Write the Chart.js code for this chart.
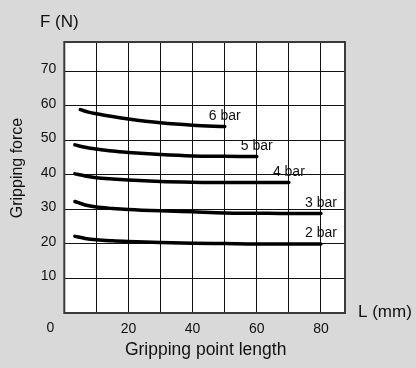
<!DOCTYPE html>
<html>
<head>
<meta charset="utf-8">
<script src="https://cdn.jsdelivr.net/npm/chart.js@4/dist/chart.umd.min.js"></script>
<style>
  html, body { margin: 0; padding: 0; background: #d9d9d9; }
  #wrap { width: 416px; height: 368px; }
</style>
</head>
<body>
<div id="wrap"><canvas id="chartFuerza" width="416" height="368"></canvas></div>
<script>
// Datos
const presiones = ['6 bar', '5 bar', '4 bar', '3 bar', '2 bar'];

const largo6 = [5, 7.5, 10, 15, 20, 30, 40, 50];
const fuerza6 = [58.9, 58.2, 57.7, 56.9, 56.2, 55.1, 54.4, 54.0];

const largo5 = [3.3, 6.5, 10, 15, 20, 30, 40, 50, 60];
const fuerza5 = [48.7, 48.0, 47.5, 46.9, 46.5, 45.9, 45.5, 45.4, 45.3];

const largo4 = [3.3, 6.5, 10, 15, 20, 30, 40, 50, 60, 70];
const fuerza4 = [40.3, 39.7, 39.2, 38.8, 38.5, 38.1, 37.9, 37.8, 37.8, 37.8];

const largo3 = [3.3, 6.5, 10, 15, 20, 30, 40, 50, 60, 70, 80];
const fuerza3 = [32.3, 31.3, 30.7, 30.3, 30.0, 29.6, 29.3, 29.0, 28.9, 28.8, 28.8];

const largo2 = [3.3, 6.5, 10, 15, 20, 30, 40, 50, 60, 70, 80];
const fuerza2 = [22.2, 21.6, 21.2, 20.9, 20.7, 20.4, 20.2, 20.1, 20.0, 20.0, 20.0];

const ticksX = [20, 40, 60, 80];
const ticksY = [10, 20, 30, 40, 50, 60, 70];

const series = [
    [largo6, fuerza6],
    [largo5, fuerza5],
    [largo4, fuerza4],
    [largo3, fuerza3],
    [largo2, fuerza2]
];

const FUENTE = "'Liberation Sans', Arial, sans-serif";
const TEXTO = '#111111';

// Fondo blanco del área, marco y textos sueltos
const marcoPlugin = {
    id: 'marco',
    beforeDraw(chart) {
        const { ctx, chartArea: a } = chart;
        ctx.save();
        ctx.fillStyle = '#ffffff';
        ctx.fillRect(a.left, a.top, a.right - a.left, a.bottom - a.top);
        ctx.restore();
    },
    beforeDatasetsDraw(chart) {
        const { ctx, chartArea: a } = chart;
        ctx.save();
        ctx.strokeStyle = '#3a3a3a';
        ctx.lineWidth = 2;
        ctx.strokeRect(a.left, a.top, a.right - a.left, a.bottom - a.top);
        ctx.restore();
    },
    afterDraw(chart) {
        const { ctx, chartArea: a, scales } = chart;
        ctx.save();
        ctx.fillStyle = TEXTO;

        // etiquetas de cada curva
        ctx.font = '14px ' + FUENTE;
        ctx.textAlign = 'center';
        ctx.textBaseline = 'alphabetic';
        chart.data.datasets.forEach(ds => {
            const ult = ds.data[ds.data.length - 1];
            const px = scales.x.getPixelForValue(ult.x);
            const py = scales.y.getPixelForValue(ult.y);
            ctx.fillText(ds.label, px, py - 6.5);
        });

        // origen
        ctx.font = '14px ' + FUENTE;
        ctx.fillText('0', a.left - 14, 331.5);

        // títulos
        ctx.font = '17px ' + FUENTE;
        ctx.textAlign = 'left';
        ctx.fillText('F (N)', 40, 26.5);
        ctx.fillText('L (mm)', 358, 317);

        ctx.font = '17.5px ' + FUENTE;
        ctx.textAlign = 'center';
        ctx.fillText('Gripping point length', (a.left + a.right) / 2 + 1, 355);

        ctx.translate(21.5, 168);
        ctx.rotate(-Math.PI / 2);
        ctx.font = '16px ' + FUENTE;
        ctx.fillText('Gripping force', 0, 0);
        ctx.restore();
    }
};

const ctx = document.getElementById('chartFuerza').getContext('2d');

new Chart(ctx, {
    type: 'line',
    data: {
        datasets: series.map((s, i) => ({
            label: presiones[i],
            data: s[0].map((x, j) => ({ x: x, y: s[1][j] })),
            borderColor: '#000000',
            borderWidth: 3.5,
            pointRadius: 0,
            fill: false,
            cubicInterpolationMode: 'monotone',
            borderCapStyle: 'round'
        }))
    },
    options: {
        responsive: false,
        animation: false,
        layout: {
            padding: { top: 42, right: 71, left: 0, bottom: 0 }
        },
        plugins: {
            legend: { display: false },
            tooltip: { enabled: false }
        },
        scales: {
            x: {
                type: 'linear',
                min: 0,
                max: 87.5,
                afterFit: s => { s.height = 55; },
                border: { display: false },
                grid: {
                    color: c => (c.tick.value === 0 ? 'rgba(0,0,0,0)' : '#111111'),
                    lineWidth: 1,
                    drawTicks: false
                },
                ticks: {
                    stepSize: 10,
                    includeBounds: false,
                    padding: 8,
                    color: TEXTO,
                    font: { family: FUENTE, size: 14 },
                    maxRotation: 0,
                    autoSkip: false,
                    callback: v => (ticksX.includes(v) ? String(v) : '')
                }
            },
            y: {
                type: 'linear',
                min: 0,
                max: 78.5,
                afterFit: s => { s.width = 64.3; },
                border: { display: false },
                grid: {
                    color: c => (c.tick.value === 0 ? 'rgba(0,0,0,0)' : '#111111'),
                    lineWidth: 1,
                    drawTicks: false
                },
                ticks: {
                    stepSize: 10,
                    includeBounds: false,
                    padding: 8,
                    labelOffset: -2,
                    color: TEXTO,
                    font: { family: FUENTE, size: 14 },
                    autoSkip: false,
                    callback: v => (ticksY.includes(v) ? String(v) : '')
                }
            }
        }
    },
    plugins: [marcoPlugin]
});
</script>
</body>
</html>
